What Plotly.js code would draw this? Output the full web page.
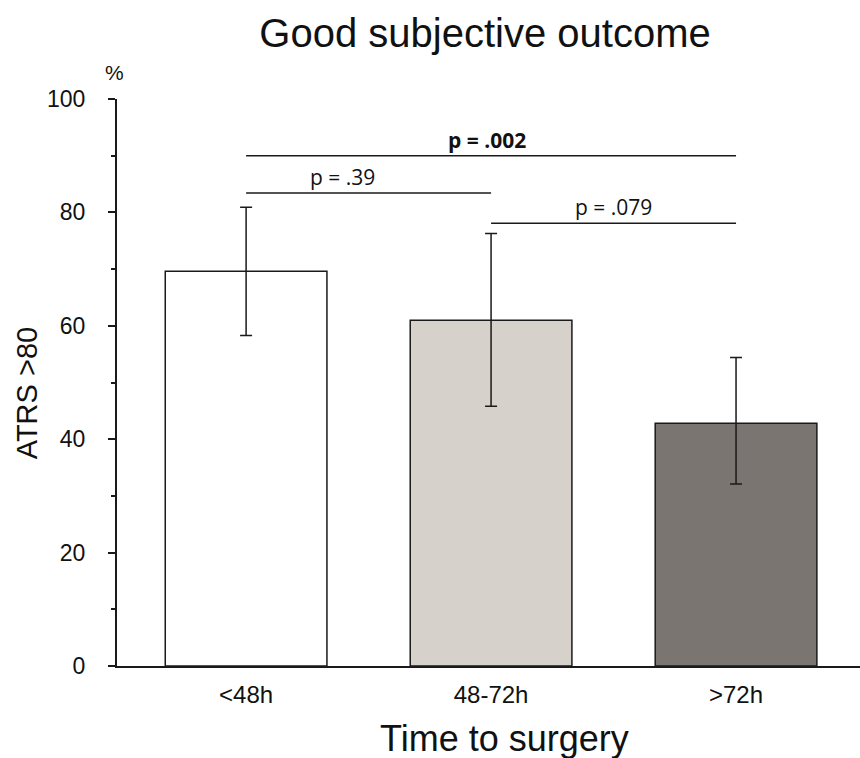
<!DOCTYPE html>
<html><head><meta charset="utf-8">
<script src="https://cdn.plot.ly/plotly-3.0.1.min.js"></script>
<style>html,body{margin:0;padding:0;background:#fff}</style>
</head><body>
<div id="chart" style="width:860px;height:758px"></div>
<script>
const categories = ['<48h', '48-72h', '>72h'];
const values = [69.6, 61.0, 42.8];
const errPlus = [11.3, 15.3, 11.6];
const errMinus = [11.3, 15.2, 10.7];
const barColors = ['#ffffff', '#d7d1cb', '#7a7571'];
const pLabels = ['p = .002', 'p = .39', 'p = .079'];
const pFrom = [0, 0, 1];
const pTo = [2, 1, 2];
const pLevel = [90.0, 83.4, 78.1];
const pBold = [true, false, false];
const yTicks = [0, 20, 40, 60, 80, 100];
const xTitle = 'Time to surgery';
const yTitle = 'ATRS >80';

const trace = {
  type: 'bar', x: [0, 1, 2], y: values, width: 0.66,
  marker: {color: barColors, line: {color: '#1a1a1a', width: 1.5}},
  error_y: {type: 'data', symmetric: false, array: errPlus, arrayminus: errMinus,
            color: '#1a1a1a', thickness: 1.5, width: 6},
  hoverinfo: 'none'
};

// horizontal nudges of the p-value labels (pixels), layout only
const pShift = [-4, -26, 0];
const shapes = [], annotations = [];
pLabels.forEach((t, i) => {
  shapes.push({type: 'line', xref: 'x', yref: 'y', x0: pFrom[i], x1: pTo[i],
    y0: pLevel[i], y1: pLevel[i], line: {color: '#1a1a1a', width: 1.5}});
  annotations.push({xref: 'x', yref: 'y', x: (pFrom[i] + pTo[i]) / 2,
    y: pLevel[i], text: pBold[i] ? '<b>' + t + '</b>' : t, showarrow: false,
    xshift: pShift[i], yanchor: 'bottom', yshift: 0,
    font: {family: 'Open Sans, sans-serif', size: 21, color: '#111'}});
});
annotations.push({xref: 'paper', yref: 'paper', x: 0, y: 1, text: '%', showarrow: false,
  xanchor: 'center', yanchor: 'bottom', xshift: -3, yshift: 13,
  font: {family: 'Liberation Sans, Arial, sans-serif', size: 21, color: '#111'}});
// axis titles placed as annotations to match the reference offsets
annotations.push({xref: 'paper', yref: 'paper', x: 0.522, y: -0.127, text: xTitle,
  showarrow: false, xanchor: 'center', yanchor: 'middle',
  font: {family: 'Liberation Sans, Arial, sans-serif', size: 36, color: '#111'}});
annotations.push({xref: 'paper', yref: 'paper', x: -0.1211, y: 0.481, text: yTitle,
  showarrow: false, xanchor: 'center', yanchor: 'middle', textangle: -90,
  font: {family: 'Liberation Sans, Arial, sans-serif', size: 29, color: '#111'}});

const layout = {
  width: 860, height: 758,
  margin: {l: 117, r: 0, t: 98.5, b: 92},
  paper_bgcolor: '#fff', plot_bgcolor: '#fff',
  showlegend: false,
  font: {family: 'Liberation Sans, Arial, sans-serif', color: '#111'},
  title: {text: 'Good subjective outcome', x: 0.564, xanchor: 'center',
          y: 0.957, yanchor: 'middle', yref: 'container',
          font: {size: 40, color: '#111'}},
  xaxis: {range: [-0.527, 2.506], tickvals: [0, 1, 2], ticktext: categories,
          showgrid: false, zeroline: false, showline: true, linecolor: '#1a1a1a', linewidth: 2,
          ticks: '', tickfont: {size: 24}, ticklabelstandoff: 6},
  yaxis: {range: [0, 100], tickvals: yTicks, showgrid: false, zeroline: false,
          showline: true, linecolor: '#1a1a1a', linewidth: 2,
          ticks: 'outside', ticklen: 7, tickwidth: 2, tickcolor: '#1a1a1a',
          minor: {dtick: 10, ticks: 'outside', ticklen: 4, tickwidth: 2, tickcolor: '#1a1a1a'},
          tickfont: {size: 23}, ticklabelstandoff: 18},
  shapes: shapes, annotations: annotations
};
Plotly.newPlot('chart', [trace], layout, {displayModeBar: false, staticPlot: true});
</script>
</body></html>
